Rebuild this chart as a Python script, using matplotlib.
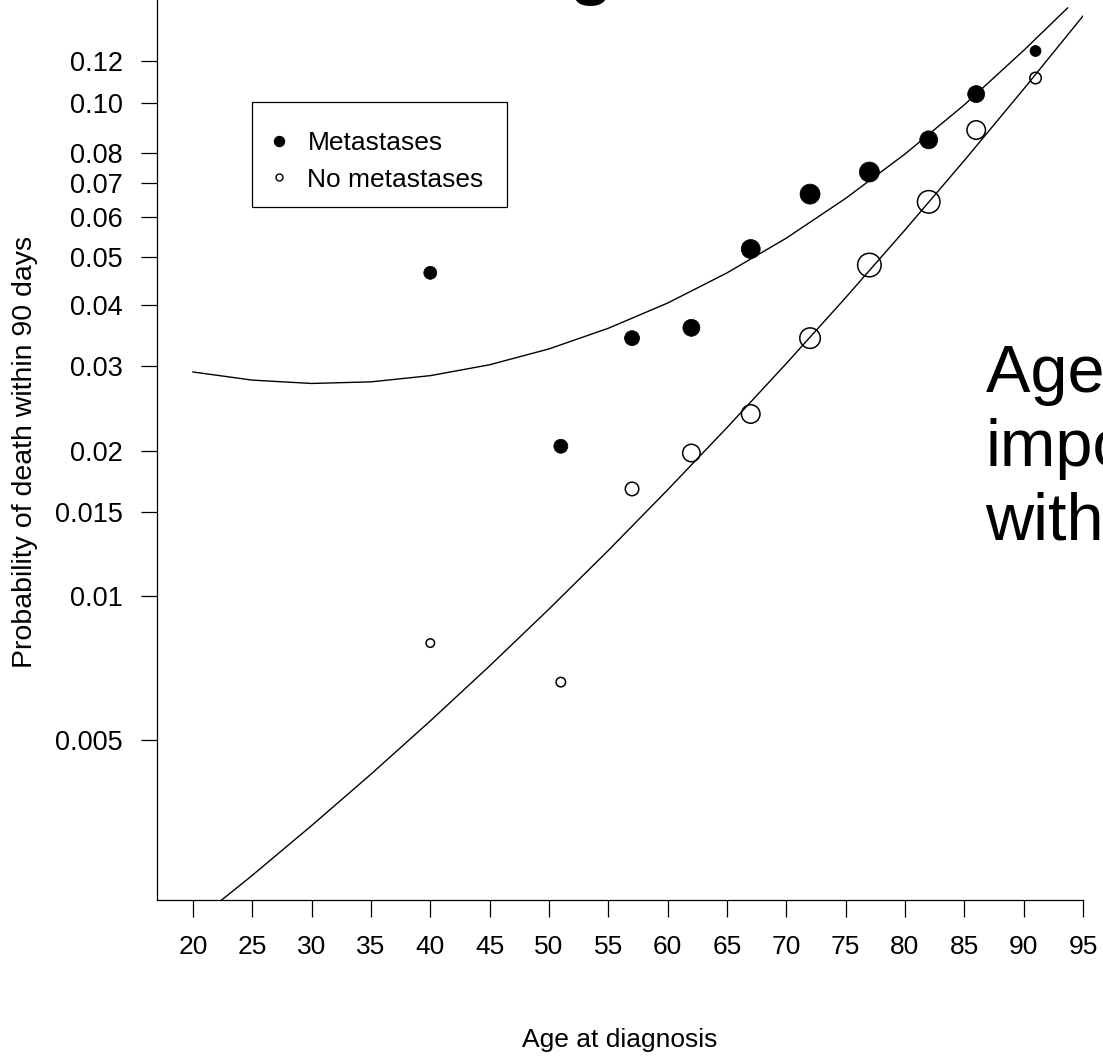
import matplotlib
matplotlib.use("Agg")
import matplotlib.pyplot as plt
from matplotlib.lines import Line2D
from matplotlib.patches import Rectangle
from matplotlib.ticker import FixedLocator, FixedFormatter, NullLocator

plt.rcParams['font.family'] = ['Liberation Sans', 'DejaVu Sans']

# ---------------- data ----------------
ages = [40, 51, 57, 62, 67, 72, 77, 82, 86, 91]
p_meta = [0.0464, 0.0205, 0.0342, 0.0359, 0.0518, 0.0666, 0.0736, 0.0850, 0.1040, 0.1252]
p_nometa = [0.00797, 0.00660, 0.01672, 0.01985, 0.0239, 0.0342, 0.0481, 0.0643, 0.0888, 0.1115]
# relative group weight (drawn as marker diameter)
w_meta = [13, 14, 15, 17, 19, 20, 20, 18, 17, 11]
w_nometa = [10, 11, 15, 19, 20, 22, 25, 24, 20, 13]

fit_meta_age = [20, 25, 30, 35, 40, 45, 50, 55, 60, 65, 70, 75, 80, 85, 90, 93.7]
fit_meta_p = [0.02916, 0.02806, 0.02762, 0.02783, 0.02866, 0.03017, 0.03251, 0.03582,
              0.04031, 0.04638, 0.05446, 0.06532, 0.0798, 0.09923, 0.1255, 0.1500]

fit_nometa_age = [20, 25, 30, 35, 40, 45, 50, 55, 60, 65, 70, 75, 80, 85, 90, 95]
fit_nometa_p = [0.002053, 0.002589, 0.003296, 0.004228, 0.005471, 0.007138, 0.00939,
                0.01245, 0.01665, 0.02240, 0.03035, 0.04134, 0.05655, 0.07752, 0.1063,
                0.1451]

xticks = list(range(20, 96, 5))
yticks = [0.005, 0.01, 0.015, 0.02, 0.03, 0.04, 0.05, 0.06, 0.07, 0.08, 0.10, 0.12]
ytick_labels = ['0.005', '0.01', '0.015', '0.02', '0.03', '0.04', '0.05', '0.06',
                '0.07', '0.08', '0.10', '0.12']
legend_labels = ['Metastases', 'No metastases']
side_text = ['Age is', 'important', 'without']

# ---------------- figure ----------------
W, H = 1103, 1058
fig = plt.figure(figsize=(W / 100, H / 100), dpi=100)
ax = fig.add_axes([157 / W, (H - 900) / H, (1083 - 157) / W, 900 / H])

ax.set_yscale('logit')
ax.set_xlim(16.97, 95)
ax.set_ylim(0.002297, 0.1550)

lw_line = 1.0
ax.plot(fit_meta_age, fit_meta_p, color='black', lw=lw_line, zorder=2)
ax.plot(fit_nometa_age, fit_nometa_p, color='black', lw=lw_line, zorder=2)

ax.scatter(ages, p_meta, s=[(d * 0.72) ** 2 for d in w_meta], facecolor='black',
           edgecolor='black', linewidths=0.5, zorder=3)
ax.scatter(ages, p_nometa, s=[((d - 1.5) * 0.72) ** 2 for d in w_nometa], facecolor='none',
           edgecolor='black', linewidths=1.1, zorder=3)

for sp in ['top', 'right']:
    ax.spines[sp].set_visible(False)
for sp in ['left', 'bottom']:
    ax.spines[sp].set_linewidth(0.9)

ax.xaxis.set_major_locator(FixedLocator(xticks))
ax.xaxis.set_major_formatter(FixedFormatter([str(t) for t in xticks]))
ax.yaxis.set_major_locator(FixedLocator(yticks))
ax.yaxis.set_major_formatter(FixedFormatter(ytick_labels))
ax.yaxis.set_minor_locator(NullLocator())
ax.xaxis.set_minor_locator(NullLocator())
ax.tick_params(axis='x', length=12, width=0.9, pad=13.5, labelsize=19, direction='out')
ax.tick_params(axis='y', length=11.5, width=0.9, pad=13, labelsize=19.5, direction='out')

fig.text(620 / W, 1 - 1040 / H, 'Age at diagnosis', ha='center', va='center', fontsize=19)
fig.text(25 / W, 1 - 452 / H, 'Probability of death within 90 days', rotation=90,
         ha='center', va='center', fontsize=20.5)

# legend box
ax.add_patch(Rectangle((252 / W, 1 - 207 / H), (507 - 252) / W, (207 - 102) / H,
                       transform=fig.transFigure, facecolor='white', clip_on=False,
                       edgecolor='black', linewidth=0.9, zorder=4))
handles = [Line2D([], [], ls='', marker='o', markersize=10 * 0.72, mfc='black', mec='black'),
           Line2D([], [], ls='', marker='o', markersize=7 * 0.72, mfc='white', mec='black',
                  mew=1.0)]
leg = ax.legend(handles, legend_labels, loc='upper left',
                bbox_to_anchor=(252 / W, 1 - 113 / H), bbox_transform=fig.transFigure,
                borderaxespad=0, frameon=False, fontsize=19,
                borderpad=0.7, handlelength=0.68, handletextpad=0.72, labelspacing=0.46,
                numpoints=1)
leg.set_zorder(5)

for i, t in enumerate(side_text):
    fig.text(985.5 / W, 1 - (392 + i * 74) / H, t, ha='left', va='baseline', fontsize=48)

fig.text(590 / W, 1 + 7.5 / H, 'g', ha='center', va='baseline', fontsize=50,
         fontweight='bold')

fig.savefig('out.png', dpi=100)
